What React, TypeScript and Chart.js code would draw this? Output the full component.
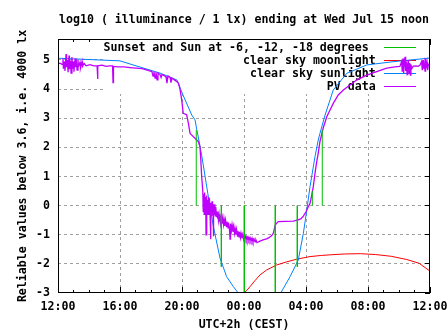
import React, { useEffect, useRef } from 'react';
import { Chart, registerables } from 'chart.js';

Chart.register(...registerables);

const TITLE = 'log10 ( illuminance / 1 lx) ending at Wed Jul 15 noon';
const Y_TITLE = 'Reliable values below 3.6, i.e. 4000 lx';
const X_TITLE = 'UTC+2h (CEST)';
const LEGEND_LABELS = [
  'Sunset and Sun at -6, -12, -18 degrees ',
  'clear sky moonlight',
  'clear sky sunlight',
  'PV data',
];
const COLORS = ['#00c000', '#ff0000', '#0080ff', '#c000ff'];

// x axis: hours after 12:00 (local CEST)
const START_HOUR = 12;
const X_MIN = 0;
const X_MAX = 24;
const Y_MIN = -3;
const Y_MAX = 5.72;

// Sunset / Sun at -6, -12, -18 degrees markers (vertical lines from 0 to level)
const sunEventHours = [8.92, 10.54, 12.02, 14.02, 15.44, 16.41, 17.05];
const sunEventLevels = [2.6, -2.1, -3, -3, -2.1, 0.5, 2.6];

// Clear sky sunlight
const sunHours = [0, 4, 4.84, 6.58, 7.68, 8.06, 8.63, 8.84, 8.95, 9.16, 9.27, 9.37, 9.55, 9.7, 9.81, 10.02, 10.45, 10.88, 11.31, 11.63, 12.0, 12.97, 14.0, 14.37, 14.97, 15.5, 15.83, 16.05, 16.26, 16.58, 16.79, 16.9, 17.23, 17.76, 18.63, 19.92, 21.61, 23.87, 24];
const sunValues = [5.06, 4.97, 4.83, 4.55, 4.31, 3.8, 3.11, 2.94, 2.62, 2.05, 1.72, 1.4, 0.8, 0.3, -0.05, -0.7, -1.8, -2.44, -2.78, -3.0, -3.25, -3.45, -3.2, -3.0, -2.44, -1.87, -0.95, -0.15, 0.65, 1.68, 2.25, 2.48, 3.11, 3.97, 4.54, 4.83, 4.94, 5.06, 5.06];

// Clear sky moonlight
const moonHours = [11.9, 12.0, 12.2, 12.39, 12.7, 13.03, 13.46, 14.1, 14.75, 15.4, 16.26, 17.0, 17.55, 18.5, 19.5, 20.5, 21.5, 22.5, 23.3, 24];
const moonValues = [-3.15, -3.0, -2.9, -2.78, -2.58, -2.38, -2.21, -2.04, -1.93, -1.84, -1.75, -1.71, -1.69, -1.66, -1.65, -1.68, -1.74, -1.85, -1.98, -2.25];

// PV data: [hours after 12:00, log10 lx]
const pvData: [number, number][] = [
  [0, 4.87], [0.13, 4.89], [0.26, 4.85], [0.32, 5.05], [0.35, 4.7], [0.42, 4.95], [0.45, 4.62], [0.52, 5.2], [0.55, 4.75], [0.61, 5.0],
  [0.65, 4.58], [0.71, 5.15], [0.74, 4.68], [0.81, 4.98], [0.84, 4.55], [0.9, 5.1], [0.94, 4.7], [1.0, 4.95], [1.03, 4.6], [1.1, 5.05],
  [1.13, 4.75], [1.19, 4.92], [1.23, 4.65], [1.29, 5.0], [1.32, 4.78], [1.42, 4.92], [1.45, 4.72], [1.55, 4.95], [1.58, 4.78], [1.68, 4.88],
  [1.81, 4.8], [2.06, 4.84], [2.32, 4.8], [2.52, 4.8], [2.55, 4.35], [2.58, 4.8], [2.84, 4.82], [3.1, 4.78], [3.35, 4.8], [3.52, 4.8],
  [3.55, 4.22], [3.58, 4.78], [3.87, 4.76], [4.26, 4.76], [4.65, 4.74], [5.03, 4.72], [5.42, 4.7], [5.81, 4.64], [6.06, 4.6], [6.13, 4.45],
  [6.19, 4.6], [6.26, 4.38], [6.32, 4.58], [6.39, 4.32], [6.45, 4.55], [6.58, 4.5], [6.65, 4.4], [6.71, 4.5], [6.84, 4.47], [6.97, 4.42],
  [7.03, 4.2], [7.1, 4.45], [7.23, 4.4], [7.29, 4.22], [7.35, 4.38], [7.55, 4.3], [7.68, 4.25], [7.77, 4.2], [7.87, 4.0], [7.98, 3.63],
  [8.08, 3.17], [8.3, 3.12], [8.41, 2.83], [8.52, 2.48], [8.63, 2.42], [8.84, 2.31], [9.05, 2.2], [9.16, 2.02], [9.21, 1.6], [9.27, 0.99],
  [9.34, 0.5], [9.37, -0.2], [9.4, 0.4], [9.43, -0.3], [9.46, 0.45], [9.5, -0.1], [9.53, 0.3], [9.55, -1.0], [9.58, 0.35], [9.61, -0.25],
  [9.65, 0.2], [9.68, -0.3], [9.71, 0.3], [9.74, -0.2], [9.77, 0.25], [9.81, -0.3], [9.84, -1.15], [9.87, 0.1], [9.9, -0.3], [9.94, 0.15],
  [9.97, -0.35], [10.0, 0.05], [10.02, -1.05], [10.05, 0.0], [10.08, -0.3], [10.12, 0.05], [10.15, -0.35], [10.18, -0.05], [10.23, -0.4], [10.26, -0.2],
  [10.29, -0.45], [10.32, -0.25], [10.35, -0.5], [10.39, -0.3], [10.42, -0.55], [10.45, -0.35], [10.48, -0.6], [10.52, -0.4], [10.58, -0.62], [10.61, -0.42],
  [10.68, -0.65], [10.71, -0.45], [10.77, -0.7], [10.81, -0.5], [10.87, -0.72], [10.9, -0.55], [10.97, -0.76], [11.0, -0.58], [11.06, -0.8], [11.1, -1.15],
  [11.13, -0.62], [11.19, -0.85], [11.23, -0.66], [11.29, -0.9], [11.32, -0.72], [11.39, -0.95], [11.42, -0.78], [11.48, -1.0], [11.52, -0.82], [11.58, -1.05],
  [11.61, -0.88], [11.68, -1.07], [11.71, -0.9], [11.77, -1.1], [11.81, -0.95], [11.87, -1.12], [11.9, -1.0], [11.97, -1.15], [12.0, -1.02], [12.06, -1.15],
  [12.13, -1.05], [12.19, -1.2], [12.26, -1.08], [12.32, -1.2], [12.39, -1.1], [12.45, -1.22], [12.52, -1.12], [12.58, -1.25], [12.65, -1.15], [12.71, -1.24],
  [12.77, -1.18], [12.84, -1.27], [12.92, -1.25], [13.03, -1.22], [13.23, -1.18], [13.46, -1.14], [13.61, -1.1], [13.79, -1.03], [13.89, -0.95], [13.94, -0.84],
  [14.0, -0.68], [14.11, -0.6], [14.21, -0.55], [14.65, -0.54], [15.18, -0.53], [15.5, -0.49], [15.68, -0.45], [15.83, -0.36], [16.0, -0.21], [16.15, -0.04],
  [16.26, 0.08], [16.37, 0.36], [16.47, 0.65], [16.58, 1.11], [16.69, 1.5], [16.79, 1.8], [16.9, 2.2], [17.01, 2.45], [17.12, 2.68], [17.34, 3.05],
  [17.55, 3.28], [17.76, 3.51], [18.08, 3.8], [18.41, 3.97], [18.84, 4.14], [19.27, 4.31], [19.92, 4.48], [20.56, 4.6], [21.21, 4.72], [21.85, 4.77],
  [22.06, 4.78], [22.17, 4.95], [22.21, 4.6], [22.26, 5.05], [22.3, 4.55], [22.34, 4.9], [22.39, 5.11], [22.43, 4.62], [22.47, 4.95], [22.52, 4.5],
  [22.56, 4.85], [22.6, 5.0], [22.65, 4.55], [22.69, 4.9], [22.73, 4.48], [22.77, 4.85], [22.82, 4.7], [22.92, 4.79], [23.1, 4.8], [23.23, 4.78],
  [23.35, 4.82], [23.46, 4.95], [23.5, 4.65], [23.55, 5.0], [23.59, 4.7], [23.63, 4.9], [23.68, 4.62], [23.72, 5.05], [23.76, 4.72], [23.81, 4.92],
  [23.85, 4.65], [23.89, 4.85], [24, 4.8],
];

const FONT_FAMILY = '"DejaVu Sans Mono", "Liberation Mono", monospace';
const FONT_SIZE = 11.6;
const FONT = `bold ${FONT_SIZE}px ${FONT_FAMILY}`;

const hourLabel = (v: number) =>
  v % 4 === 0 ? `${String((START_HOUR + v) % 24).padStart(2, '0')}:00` : '';

const crisp = (p: number) => Math.floor(p) + 0.5;

const gnuplotPlugin = {
  id: 'gnuplotDecor',
  beforeDatasetsDraw(chart: any) {
    const { ctx, chartArea: a, scales } = chart;
    const xs = scales.x;
    const ys = scales.y;
    ctx.save();
    // dashed grid
    ctx.strokeStyle = '#a0a0a0';
    ctx.lineWidth = 1;
    ctx.setLineDash([3, 3]);
    ys.ticks.forEach((t: any) => {
      if (t.value <= Y_MIN) return;
      const y = crisp(ys.getPixelForValue(t.value));
      ctx.beginPath();
      ctx.moveTo(a.left, y);
      ctx.lineTo(a.right, y);
      ctx.stroke();
    });
    xs.ticks.forEach((t: any) => {
      if (t.value % 4 !== 0 || t.value <= X_MIN || t.value >= X_MAX) return;
      const x = crisp(xs.getPixelForValue(t.value));
      ctx.beginPath();
      ctx.moveTo(x, a.top);
      ctx.lineTo(x, a.bottom);
      ctx.stroke();
    });
    ctx.setLineDash([]);
    // inward tick marks
    ctx.strokeStyle = '#000';
    xs.ticks.forEach((t: any) => {
      const x = crisp(xs.getPixelForValue(t.value));
      const len = t.value % 4 === 0 ? 6 : 3;
      ctx.beginPath();
      ctx.moveTo(x, a.bottom);
      ctx.lineTo(x, a.bottom - len);
      ctx.moveTo(x, a.top);
      ctx.lineTo(x, a.top + len);
      ctx.stroke();
    });
    ys.ticks.forEach((t: any) => {
      const y = crisp(ys.getPixelForValue(t.value));
      ctx.beginPath();
      ctx.moveTo(a.right, y);
      ctx.lineTo(a.right - 5, y);
      ctx.stroke();
    });
    // opaque key box
    ctx.font = FONT;
    const rowH = 13;
    const textRight = a.right - 54.3;
    const sampleL = a.right - 46;
    const sampleR = a.right - 14;
    let maxW = 0;
    LEGEND_LABELS.forEach((l) => (maxW = Math.max(maxW, ctx.measureText(l).width)));
    const boxL = textRight - maxW;
    ctx.fillStyle = '#fff';
    ctx.fillRect(boxL, a.top + 1, a.right - boxL - 1, rowH * LEGEND_LABELS.length + 2);
    ctx.textAlign = 'right';
    ctx.textBaseline = 'middle';
    LEGEND_LABELS.forEach((l, i) => {
      const y = a.top + 8.7 + rowH * i;
      ctx.fillStyle = '#000';
      ctx.fillText(l, textRight, y);
      ctx.strokeStyle = COLORS[i];
      ctx.lineWidth = 1;
      ctx.beginPath();
      ctx.moveTo(sampleL, crisp(y));
      ctx.lineTo(sampleR, crisp(y));
      ctx.stroke();
    });
    ctx.restore();
  },
  afterDatasetsDraw(chart: any) {
    const { ctx, chartArea: a } = chart;
    ctx.save();
    ctx.strokeStyle = '#000';
    ctx.lineWidth = 1;
    const l = crisp(a.left);
    const t = crisp(a.top);
    const r = crisp(a.right - 1);
    const b = crisp(a.bottom - 1);
    ctx.strokeRect(l, t, r - l, b - t);
    ctx.restore();
  },
  afterDraw(chart: any) {
    const { ctx, chartArea: a } = chart;
    ctx.save();
    ctx.font = FONT;
    ctx.fillStyle = '#000';
    ctx.textAlign = 'center';
    ctx.textBaseline = 'alphabetic';
    const cx = (a.left + a.right) / 2;
    ctx.fillText(TITLE, cx, 23);
    ctx.textBaseline = 'middle';
    ctx.fillText(X_TITLE, cx, 325);
    ctx.translate(23, (a.top + a.bottom) / 2);
    ctx.rotate(-Math.PI / 2);
    ctx.fillText(Y_TITLE, 0, 0);
    ctx.restore();
  },
};

export default function App() {
  const canvasRef = useRef<HTMLCanvasElement | null>(null);

  useEffect(() => {
    const canvas = canvasRef.current;
    if (!canvas) return;

    const greenData: { x: number; y: number | null }[] = [];
    sunEventHours.forEach((h, i) => {
      greenData.push({ x: h, y: 0 });
      greenData.push({ x: h, y: sunEventLevels[i] });
      greenData.push({ x: h, y: null });
    });

    const chart = new Chart(canvas, {
      type: 'line',
      data: {
        datasets: [
          {
            label: LEGEND_LABELS[0],
            data: greenData as any,
            borderColor: COLORS[0],
            borderWidth: 1,
            pointRadius: 0,
            spanGaps: false,
          },
          {
            label: LEGEND_LABELS[3],
            data: pvData.map(([x, y]) => ({ x, y })),
            borderColor: COLORS[3],
            borderWidth: 1.3,
            pointRadius: 0,
          },
          {
            label: LEGEND_LABELS[2],
            data: sunHours.map((x, i) => ({ x, y: sunValues[i] })),
            borderColor: COLORS[2],
            borderWidth: 1,
            pointRadius: 0,
          },
          {
            label: LEGEND_LABELS[1],
            data: moonHours.map((x, i) => ({ x, y: moonValues[i] })),
            borderColor: COLORS[1],
            borderWidth: 1,
            pointRadius: 0,
          },
        ],
      },
      options: {
        animation: false,
        responsive: false,
        devicePixelRatio: 1,
        events: [],
        layout: { padding: { top: 39, right: 17, left: 0, bottom: 0 } },
        plugins: {
          legend: { display: false },
          title: { display: false },
          tooltip: { enabled: false },
        },
        scales: {
          x: {
            type: 'linear',
            min: X_MIN,
            max: X_MAX,
            grid: { display: false, drawTicks: false },
            border: { display: false },
            ticks: {
              stepSize: 1,
              autoSkip: false,
              maxRotation: 0,
              includeBounds: false,
              padding: 7,
              color: '#000',
              font: { family: FONT_FAMILY, size: FONT_SIZE, weight: 'bold' },
              callback: (v: any) => hourLabel(Number(v)),
            },
            afterFit: (s: any) => {
              s.height = 42;
              s.paddingLeft = 0;
              s.paddingRight = 0;
            },
          },
          y: {
            type: 'linear',
            min: Y_MIN,
            max: Y_MAX,
            grid: { display: false, drawTicks: false },
            border: { display: false },
            ticks: {
              stepSize: 1,
              includeBounds: false,
              padding: 8,
              color: '#000',
              font: { family: FONT_FAMILY, size: FONT_SIZE, weight: 'bold' },
              callback: (v: any) => String(v),
            },
            afterFit: (s: any) => {
              s.width = 58;
              s.paddingTop = 0;
              s.paddingBottom = 0;
            },
          },
        },
      } as any,
      plugins: [gnuplotPlugin],
    });

    return () => chart.destroy();
  }, []);

  return (
    <div style={{ position: 'absolute', left: 0, top: 0, width: 447, height: 335, background: '#fff' }}>
      <canvas ref={canvasRef} width={447} height={335} style={{ display: 'block' }} />
    </div>
  );
}
